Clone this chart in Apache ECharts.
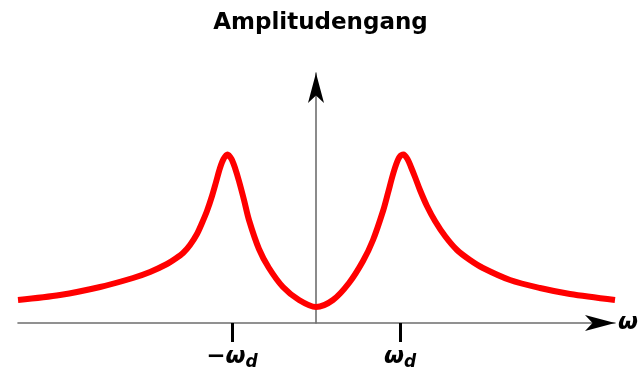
<!DOCTYPE html>
<html><head><meta charset="utf-8">
<script src="https://cdn.jsdelivr.net/npm/echarts@6/dist/echarts.min.js"></script>
<style>html,body{margin:0;padding:0;background:#fff}#c{width:641px;height:376px}</style>
</head><body><div id="c"></div>
<script>
const titleText = 'Amplitudengang';
const axisName = 'ω';
// curve samples (omega in units of omega_d, amplitude in arbitrary units)
const omega = [-3.548, -3.048, -2.571, -2.179, -1.976, -1.774, -1.679, -1.583, -1.500, -1.417, -1.357, -1.298, -1.238, -1.190, -1.143, -1.101, -1.054, -1.006, -0.964, -0.917, -0.857, -0.798, -0.679, -0.560, -0.393, -0.202, 0,
  0.202, 0.393, 0.560, 0.679, 0.798, 0.857, 0.911, 0.952, 0.994, 1.042, 1.089, 1.131, 1.179, 1.238, 1.321, 1.417, 1.536, 1.679, 1.833, 1.988, 2.310, 2.667, 3.024, 3.560];
const amplitude = [23, 28, 36, 45, 51, 59, 64, 70, 78, 89, 100, 112, 127, 141, 155, 164, 168.5, 164, 155, 142, 123, 103, 74, 55, 36, 23, 16,
  23, 40, 62, 83, 112, 130, 147, 158, 166, 168.5, 164, 156, 146, 133, 117, 102, 87, 73, 63, 55, 43, 35, 29, 23];
const tickValues = [-1, 1];
const tickMain = ['−ω', 'ω'];
const tickSub = ['d', 'd'];

const FONT = 'DejaVu Sans';
const xMin = -3.548, xMax = 3.56, yMin = 0, yMax = 250;
const chart = echarts.init(document.getElementById('c'));
chart.setOption({
  animation: false,
  backgroundColor: '#fff',
  title: {
    text: titleText, left: 'center', top: 7,
    textStyle: { fontFamily: FONT, fontWeight: 'bold', fontSize: 23, color: '#000' }
  },
  grid: { left: 18, right: 26, top: 73, bottom: 53 },
  xAxis: [
    {
      type: 'value', min: xMin, max: xMax,
      axisLine: { show: true, onZero: true, lineStyle: { color: '#6e6e6e', width: 1.6 } },
      axisTick: { show: true, customValues: tickValues, length: 19, lineStyle: { color: '#000', width: 3 } },
      axisLabel: {
        show: true, customValues: tickValues, margin: 20,
        formatter: function (v) {
          const i = tickValues.indexOf(v);
          if (i < 0) return '';
          return '{w|' + tickMain[i] + '}{s|' + tickSub[i] + '}';
        },
        rich: {
          w: { fontFamily: FONT, fontSize: 23, fontWeight: 'bold', fontStyle: 'italic', color: '#000', lineHeight: 28 },
          s: { fontFamily: FONT, fontSize: 17, fontWeight: 'bold', fontStyle: 'italic', color: '#000', lineHeight: 14, verticalAlign: 'bottom' }
        }
      },
      splitLine: { show: false },
      name: axisName, nameLocation: 'end', nameGap: 3,
      nameTextStyle: { fontFamily: FONT, fontSize: 23, fontWeight: 'bold', fontStyle: 'italic', color: '#000', verticalAlign: 'middle', align: 'left' }
    },
    {
      type: 'value', min: xMin, max: xMax, position: 'bottom',
      axisLine: { show: true, onZero: true, symbol: ['none', 'arrow'], symbolSize: [12, 30], symbolOffset: [0, 0], lineStyle: { color: '#000', opacity: 0 } },
      axisTick: { show: false }, axisLabel: { show: false }, splitLine: { show: false }
    }
  ],
  yAxis: [
    {
      type: 'value', min: yMin, max: yMax, z: 3,
      axisLine: { show: true, onZero: true, lineStyle: { color: '#6e6e6e', width: 1.6 } },
      axisTick: { show: false }, axisLabel: { show: false }, splitLine: { show: false }
    },
    {
      type: 'value', min: yMin, max: yMax, position: 'left', z: 3,
      axisLine: { show: true, onZero: true, symbol: ['none', 'arrow'], symbolSize: [12, 30], symbolOffset: [0, 0], lineStyle: { color: '#000', opacity: 0 } },
      axisTick: { show: false }, axisLabel: { show: false }, splitLine: { show: false }
    }
  ],
  series: [{
    type: 'line', xAxisIndex: 0, yAxisIndex: 0,
    data: omega.map((x, i) => [x, amplitude[i]]),
    smooth: 0.3, showSymbol: false, clip: false,
    lineStyle: { color: '#ff0000', width: 6 }
  }]
});
</script>
</body></html>
